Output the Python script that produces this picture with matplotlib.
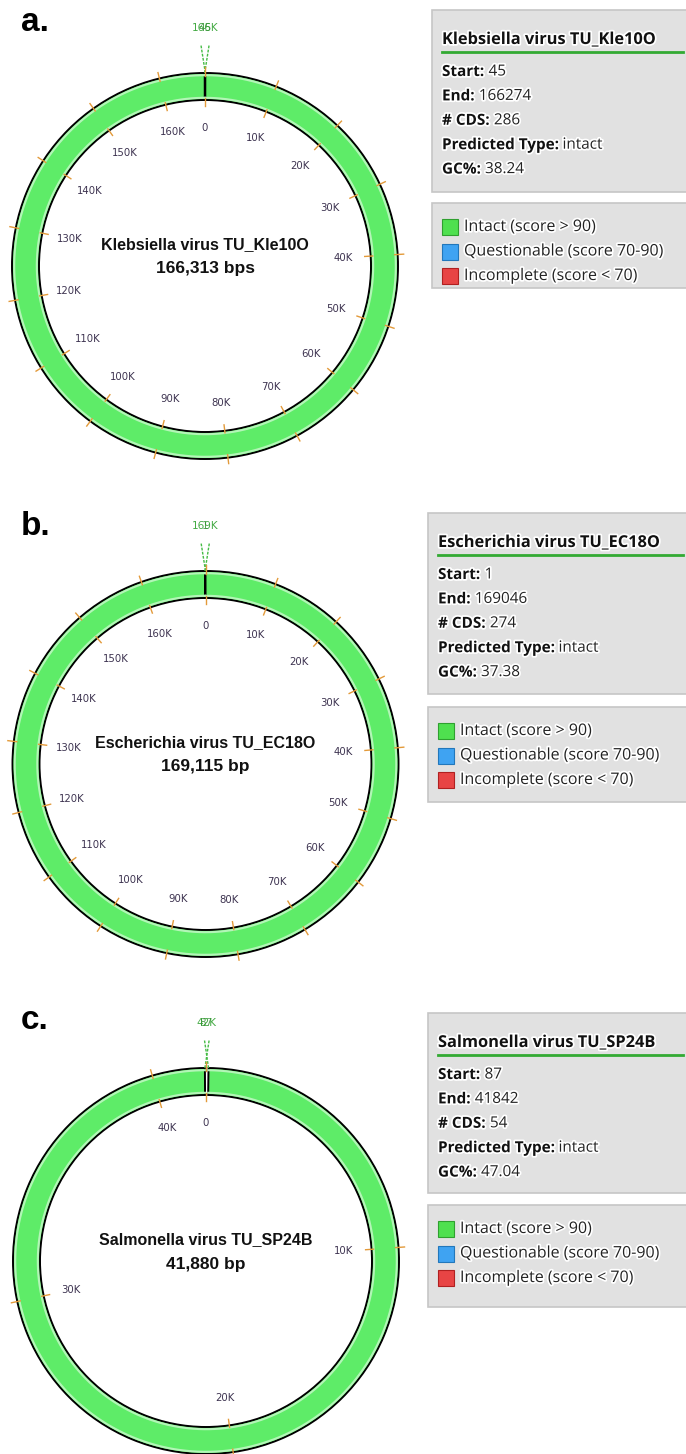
import numpy as np
import matplotlib.pyplot as plt
from matplotlib.patches import Rectangle
import matplotlib.patheffects as pe

W, H = 686, 1454

# data
panel_letters = ['a.', 'b.', 'c.']
virus_names = ['Klebsiella virus TU_Kle10O', 'Escherichia virus TU_EC18O', 'Salmonella virus TU_SP24B']
genome_lengths = [166313, 169115, 41880]
length_labels = ['166,313 bps', '169,115 bp', '41,880 bp']
region_starts = [45, 1, 87]
region_ends = [166274, 169046, 41842]
cds_counts = [286, 274, 54]
predicted_types = ['intact', 'intact', 'intact']
gc_percents = ['38.24', '37.38', '47.04']
tick_step = 10000

legend_labels = ['Intact (score > 90)', 'Questionable (score 70-90)', 'Incomplete (score < 70)']
legend_colors = ['#4fe04f', '#3fa3f2', '#e84444']
legend_edges = ['#2fa02f', '#2277bb', '#b02020']

# layout in pixels
centers = [(205, 266), (205.5, 764), (206, 1261)]
r_in, r_out = 166, 193
letter_pos = [(21, 31), (21, 535), (21, 1029)]
info_top = [10, 513, 1013]
info_bot = [192, 694, 1193]
leg_top = [203, 707, 1205]
leg_bot = [288, 802, 1307]
box_left = [432, 428, 428]

ring_green = '#5eec68'
tick_orange = '#e39a3a'
halo = [pe.withStroke(linewidth=2.5, foreground='white')]
box_font = 'Open Sans'

fig = plt.figure(figsize=(W / 100, H / 100), dpi=100)
fig.patch.set_facecolor('white')

ax0 = fig.add_axes([0, 0, 1, 1])
ax0.set_xlim(0, W)
ax0.set_ylim(H, 0)
ax0.axis('off')

for i in range(3):
    cx, cy = centers[i]
    L = genome_lengths[i]
    ax = fig.add_axes([(cx - 200) / W, 1 - (cy + 200) / H, 400 / W, 400 / H],
                      projection='polar')
    ax.set_theta_zero_location('N')
    ax.set_theta_direction(-1)
    ax.set_ylim(0, 200)
    ax.axis('off')

    # prophage region ring
    t0 = 2 * np.pi * region_starts[i] / L
    t1 = 2 * np.pi * region_ends[i] / L
    ax.bar((t0 + t1) / 2, r_out - r_in, width=t1 - t0, bottom=r_in,
           color=ring_green, edgecolor='black', linewidth=1.4, zorder=2)
    # soft light rim just inside the edges
    arc = np.linspace(t0, t1, 400)
    ax.plot(arc, np.full_like(arc, r_out - 2.2), color='#b4f5b8', lw=1.5, zorder=2.2)
    ax.plot(arc, np.full_like(arc, r_in + 2.2), color='#b4f5b8', lw=1.5, zorder=2.2)

    # position ticks and labels
    pos = np.arange(0, L, tick_step)
    for p in pos:
        th = 2 * np.pi * p / L
        ax.plot([th, th], [r_out - 3, r_out + 6], color=tick_orange, lw=1, zorder=3, clip_on=False)
        ax.plot([th, th], [r_in + 2, r_in - 6], color=tick_orange, lw=1, zorder=3, clip_on=False)
        lab = '0' if p == 0 else f'{p // 1000}K'
        ax.text(th, 138, lab, ha='center', va='center', fontsize=7.3, color='#3d3350')

    # start / end marker (labels overlap in the original)
    ax.plot([t0, t0 - 0.02], [r_out, r_out + 28], color='#44bb44', lw=1, ls=(0, (2, 1)), clip_on=False)
    ax.plot([t1, t1 + 0.02], [r_out, r_out + 28], color='#44bb44', lw=1, ls=(0, (2, 1)), clip_on=False)
    ax.text(0, 238, f'{round(region_ends[i] / 1000)}K', ha='center', va='center',
            fontsize=7.5, color='#44aa44')
    ax.text(0, 238, str(region_starts[i]), ha='center', va='center',
            fontsize=7.5, color='#2f8f2f', alpha=0.8)

    # centre label
    ax0.text(cx, cy - 21, virus_names[i], ha='center', va='center', fontsize=11.5,
             fontweight='bold', family='Liberation Sans', color='#111111')
    ax0.text(cx, cy + 3, length_labels[i], ha='center', va='center', fontsize=12.5,
             fontweight='bold', family='Liberation Sans', color='#111111')

    # panel letter
    lx, ly = letter_pos[i]
    ax0.text(lx, ly, panel_letters[i], ha='left', va='baseline', fontsize=24,
             fontweight='bold', family='Liberation Sans', color='black')

    # info box
    bl = box_left[i]
    ax0.add_patch(Rectangle((bl, info_top[i]), W - bl + 5, info_bot[i] - info_top[i],
                            facecolor='#e1e1e1', edgecolor='#c6c6c6', lw=1.2))
    tx = bl + 10
    ax0.text(tx, info_top[i] + 30, virus_names[i], ha='left', va='center', fontsize=11.8,
             fontweight='bold', family=box_font, color='#111111', path_effects=halo)
    ax0.plot([tx, W - 3], [info_top[i] + 42, info_top[i] + 42], color='#33aa33', lw=2)
    rows = [('Start:', str(region_starts[i])),
            ('End:', str(region_ends[i])),
            ('# CDS:', str(cds_counts[i])),
            ('Predicted Type:', predicted_types[i]),
            ('GC%:', gc_percents[i])]
    for k, (key, val) in enumerate(rows):
        y = info_top[i] + 62 + k * 24.4
        t = ax0.text(tx, y, key, ha='left', va='center', fontsize=11, fontweight='bold',
                     family=box_font, color='#111111', path_effects=halo)
        ax0.annotate(val, xy=(1, 0.5), xycoords=t, xytext=(3, 0), textcoords='offset points',
                     ha='left', va='center', fontsize=11, family=box_font, color='#222222',
                     path_effects=halo)

    # legend box
    ax0.add_patch(Rectangle((bl, leg_top[i]), W - bl + 5, leg_bot[i] - leg_top[i],
                            facecolor='#e1e1e1', edgecolor='#c6c6c6', lw=1.2))
    for k, (lab, c, ec) in enumerate(zip(legend_labels, legend_colors, legend_edges)):
        y = leg_top[i] + 24 + k * 24.5
        ax0.add_patch(Rectangle((tx, y - 8), 16, 16, facecolor=c, edgecolor=ec, lw=0.8))
        ax0.text(tx + 22, y, lab, ha='left', va='center', fontsize=11.5,
                 family=box_font, color='#222222', path_effects=halo)

fig.savefig('out.png', dpi=100, facecolor='white')
